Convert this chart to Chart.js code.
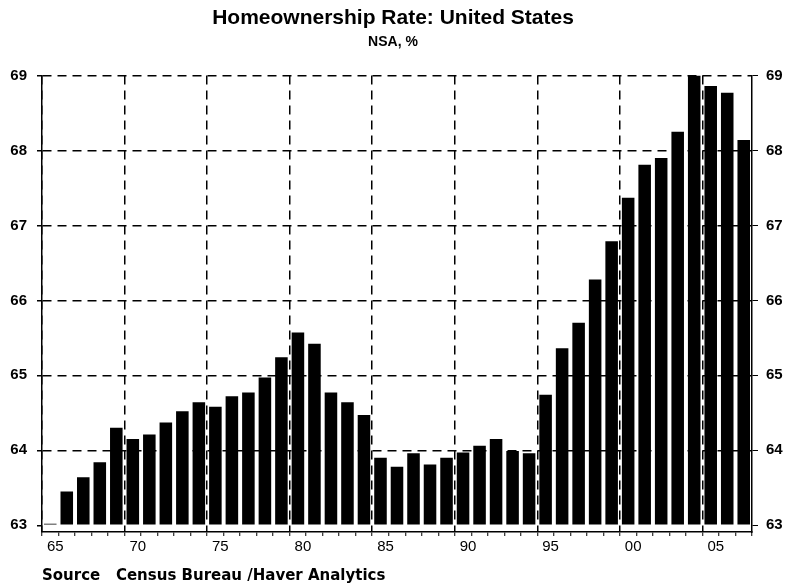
<!DOCTYPE html>
<html>
<head>
<meta charset="utf-8">
<script src="https://cdn.jsdelivr.net/npm/chart.js@4"></script>
<style>
    html, body { margin: 0; padding: 0; background: #fff; }
    #wrap { width: 786px; height: 586px; }
</style>
</head>
<body>
<div id="wrap"><canvas id="homeChart" width="786" height="586"></canvas></div>
<script>
// ============================================
// DATA
// ============================================
const years = [];
for (let y = 1965; y <= 2007; y++) years.push(y);

// x tick labels, only every 5th year is shown
const yearLabels = years.map(y => (y % 5 === 0 ? String(y).slice(2) : ''));

// homeownership rate, NSA, %
const rates = [
    63.02, 63.45, 63.64, 63.84, 64.30, 64.15, 64.21, 64.37, 64.52, 64.64,
    64.58, 64.72, 64.77, 64.97, 65.24, 65.57, 65.42, 64.77, 64.64, 64.47,
    63.90, 63.78, 63.96, 63.81, 63.90, 63.97, 64.06, 64.15, 63.99, 63.96,
    64.74, 65.36, 65.70, 66.28, 66.79, 67.37, 67.81, 67.90, 68.25, 69.00,
    68.86, 68.77, 68.14
];

const titleText = 'Homeownership Rate: United States';
const subtitleText = 'NSA, %';
const sourceText = 'Source   Census Bureau /Haver Analytics';

// ============================================
// CHART
// ============================================
const ink = '#000000';
const fontFamily = '"Liberation Sans", Arial, sans-serif';
const dash = [9, 6];

const ctx = document.getElementById('homeChart').getContext('2d');

new Chart(ctx, {
    type: 'bar',
    data: {
        labels: yearLabels,
        datasets: [{
            label: 'Homeownership Rate',
            data: rates,
            base: 63,
            backgroundColor: ink,
            borderWidth: 0,
            barPercentage: 0.76,
            categoryPercentage: 1.0,
        }]
    },
    options: {
        responsive: false,
        animation: false,
        devicePixelRatio: 1,
        layout: { padding: 0 },
        plugins: {
            legend: { display: false },
            tooltip: { enabled: false },
            title: {
                display: true,
                text: titleText,
                color: ink,
                font: { family: fontFamily, size: 21, weight: 'bold' },
                padding: { top: 6, bottom: 3 },
            },
            subtitle: {
                display: true,
                text: subtitleText,
                color: ink,
                font: { family: fontFamily, size: 14, weight: 'bold' },
                padding: { top: 0, bottom: 24.5 },
            }
        },
        scales: {
            x: {
                offset: true,
                grid: {
                    offset: true,
                    color: c => (c.index % 5 === 0 ? ink : 'rgba(0,0,0,0)'),
                    lineWidth: 1.5,
                    tickColor: ink,
                    tickLength: 4,
                    tickWidth: 1,
                },
                border: { display: true, color: ink, width: 1.5, dash: dash },
                ticks: {
                    autoSkip: false,
                    maxRotation: 0,
                    color: ink,
                    labelOffset: 5,
                    padding: 2,
                    font: { family: fontFamily, size: 15 },
                },
                title: {
                    display: true,
                    text: sourceText,
                    align: 'start',
                    color: ink,
                    font: { family: '"DejaVu Sans", sans-serif', size: 15, weight: 'bold' },
                    padding: { top: 0, bottom: 1 },
                },
                afterFit: scale => { scale.height = 54; }
            },
            y: {
                position: 'left',
                min: 62.91,
                max: 69,
                grid: {
                    color: c => (c.tick && c.tick.value > 63 ? ink : 'rgba(0,0,0,0)'),
                    lineWidth: 1.5,
                    tickColor: ink,
                    tickLength: 5,
                },
                border: { display: true, color: ink, width: 1.5, dash: dash },
                ticks: {
                    stepSize: 1,
                    includeBounds: false,
                    color: ink,
                    padding: 10,
                    font: { family: fontFamily, size: 15, weight: 'bold' },
                },
                afterFit: scale => { scale.width = 42; }
            },
            y2: {
                position: 'right',
                min: 62.91,
                max: 69,
                grid: {
                    drawOnChartArea: false,
                    tickColor: ink,
                    tickLength: 6,
                },
                border: { display: true, color: ink, width: 1.5 },
                ticks: {
                    stepSize: 1,
                    includeBounds: false,
                    color: ink,
                    padding: 8,
                    font: { family: fontFamily, size: 15, weight: 'bold' },
                },
                afterFit: scale => { scale.width = 34; }
            }
        }
    }
});
</script>
</body>
</html>
